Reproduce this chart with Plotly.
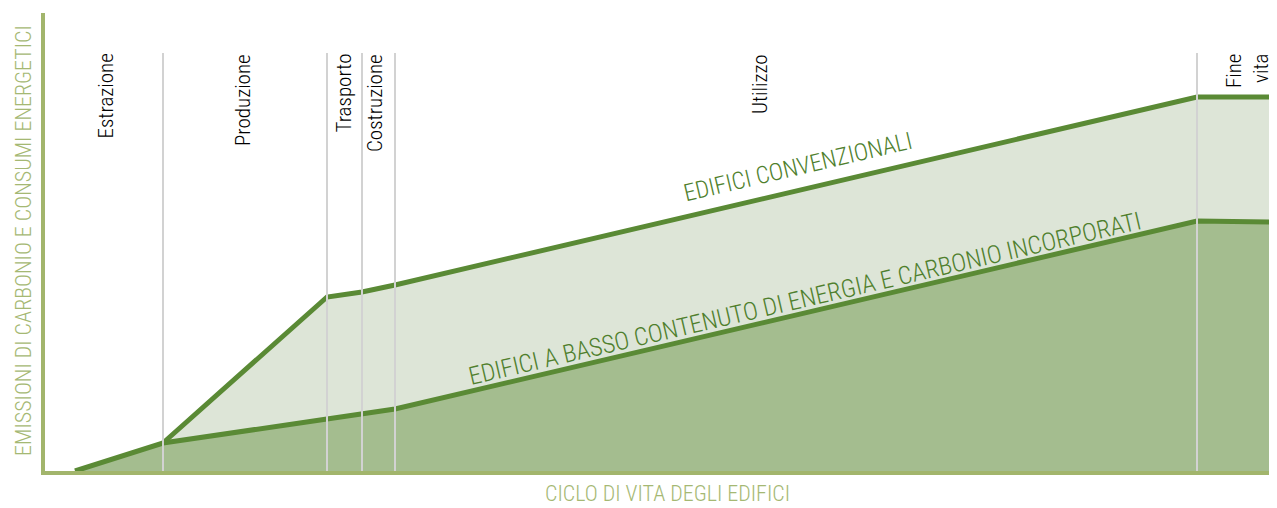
import plotly.graph_objects as go

# Values (x: life-cycle position, y: emissions, arbitrary units)
low_x = [30, 118, 282, 350, 1152, 1232]
low_y = [0, 28, 52, 62, 250, 249]
conv_x = [118, 282, 317, 350, 1152, 1232]
conv_y = [28, 174, 179, 186, 374, 374]

phase_bounds = [118, 282, 317, 350, 1152]
phase_labels = ["Estrazione", "Produzione", "Trasporto", "Costruzione", "Utilizzo", "Fine<br>vita"]
phase_label_x = [60, 198, 298, 330, 715, 1202]

LINE = "#5a8a35"
LOW_FILL = "#a4bd8f"
CONV_FILL = "#dde5d7"
AXIS = "#a2b56c"
TITLE = "#a5b873"
TXT_GREEN = "#4f7f2d"
FONT = "Roboto Condensed, Roboto, sans-serif"

fig = go.Figure()

fig.add_trace(go.Scatter(x=conv_x, y=conv_y, mode="lines", fill="tozeroy",
                         fillcolor=CONV_FILL, line=dict(color=LINE, width=5),
                         hoverinfo="skip", showlegend=False))
fig.add_trace(go.Scatter(x=low_x, y=low_y, mode="lines", fill="tozeroy",
                         fillcolor=LOW_FILL, line=dict(color=LINE, width=5),
                         hoverinfo="skip", showlegend=False))

for xb in phase_bounds:
    fig.add_shape(type="line", x0=xb, x1=xb, y0=0, y1=418, xref="x", yref="y",
                  line=dict(color="#d2d2d2", width=2), layer="above")

for lab, lx in zip(phase_labels, phase_label_x):
    fig.add_annotation(x=lx, y=419, xref="x", yref="y", text=lab, textangle=-90,
                       showarrow=False, xanchor="center", yanchor="top", align="right",
                       font=dict(family=FONT, weight=300, size=21, color="#000000"))

fig.add_annotation(x=753, y=304, xref="x", yref="y", text="EDIFICI CONVENZIONALI",
                   textangle=-13.2, showarrow=False,
                   font=dict(family=FONT, weight=300, size=24, color=TXT_GREEN))
fig.add_annotation(x=760, y=173, xref="x", yref="y",
                   text="EDIFICI A BASSO CONTENUTO DI ENERGIA E CARBONIO INCORPORATI",
                   textangle=-13.1, showarrow=False,
                   font=dict(family=FONT, weight=300, size=25, color=TXT_GREEN))

fig.add_annotation(x=-0.018, y=0.504, xref="paper", yref="paper",
                   text="EMISSIONI DI CARBONIO E CONSUMI ENERGETICI", textangle=-90,
                   showarrow=False, xanchor="center", yanchor="middle",
                   font=dict(family=FONT, weight=300, size=22, color=TITLE))
fig.add_annotation(x=0.505, y=-0.05, xref="paper", yref="paper",
                   text="CICLO DI VITA DEGLI EDIFICI", showarrow=False,
                   xanchor="center", yanchor="middle",
                   font=dict(family=FONT, weight=300, size=22, color=TITLE))

fig.update_xaxes(range=[0, 1232], showgrid=False, zeroline=False, showticklabels=False,
                 ticks="", showline=True, linecolor=AXIS, linewidth=4)
fig.update_yaxes(range=[0, 458], showgrid=False, zeroline=False, showticklabels=False,
                 ticks="", showline=True, linecolor=AXIS, linewidth=4)

fig.update_layout(width=1269, height=500, margin=dict(l=37, r=0, t=5, b=37),
                  plot_bgcolor="white", paper_bgcolor="white")

fig.write_html("out.html")
